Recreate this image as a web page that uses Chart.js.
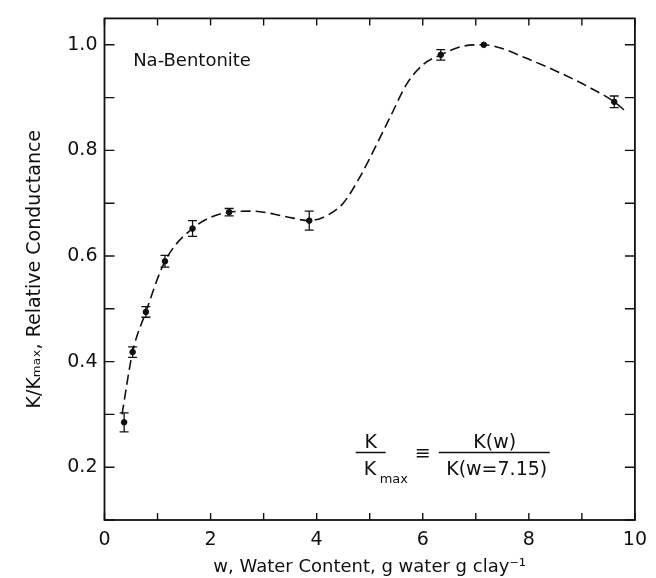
<!DOCTYPE html>
<html>
<head>
<meta charset="utf-8">
<script src="https://cdn.jsdelivr.net/npm/chart.js@4"></script>
<style>
  body { margin: 0; background: #fff; }
  #wrap { width: 656px; height: 578px; }
</style>
</head>
<body>
<div id="wrap"><canvas id="myChart"></canvas></div>
<script>
// measured points, w (g water / g clay) and K/Kmax
var waterContent = [0.37, 0.53, 0.78, 1.14, 1.66, 2.35, 3.86, 6.34, 7.15, 9.61];
var relConductance = [0.285, 0.418, 0.494, 0.590, 0.652, 0.683, 0.667, 0.981, 1.000, 0.892];
var errorBar = [0.018, 0.010, 0.010, 0.011, 0.015, 0.007, 0.018, 0.010, 0, 0.011];

// dashed curve drawn through the data
var curveW = [0.33, 0.53, 0.78, 1.14, 1.66, 2.35, 2.8, 3.4, 3.86, 4.2, 4.5, 4.8, 5.12, 5.4, 5.7, 6.0, 6.34, 6.74, 7.15, 7.5, 7.87, 8.5, 9.13, 9.61, 9.85];
var curveK = [0.30, 0.418, 0.494, 0.590, 0.652, 0.683, 0.685, 0.675, 0.667, 0.677, 0.70, 0.747, 0.809, 0.866, 0.926, 0.962, 0.981, 0.997, 1.0, 0.993, 0.978, 0.951, 0.920, 0.892, 0.872];

var xTicks = [0, 2, 4, 6, 8, 10];
var yTicks = [0.2, 0.4, 0.6, 0.8, 1.0];

var ink = '#111';
var font = 'DejaVu Sans';

var frameTicks = {
	id: 'frameTicks',
	afterDatasetsDraw: function(chart) {
		var ctx = chart.ctx, a = chart.chartArea;
		var x = chart.scales.x, y = chart.scales.y;
		ctx.save();
		ctx.strokeStyle = ink;
		ctx.lineWidth = 1.8;
		ctx.strokeRect(a.left, a.top, a.right - a.left, a.bottom - a.top);
		ctx.lineWidth = 1.4;
		ctx.beginPath();
		x.ticks.forEach(function(t) {
			var px = x.getPixelForValue(t.value);
			ctx.moveTo(px, a.bottom); ctx.lineTo(px, a.bottom - 7);
			ctx.moveTo(px, a.top); ctx.lineTo(px, a.top + 7);
		});
		y.ticks.forEach(function(t) {
			var py = y.getPixelForValue(t.value);
			ctx.moveTo(a.left, py); ctx.lineTo(a.left + 10, py);
			ctx.moveTo(a.right, py); ctx.lineTo(a.right - 10, py);
		});
		ctx.stroke();

		// error bars on the measured points
		ctx.lineWidth = 1.3;
		ctx.beginPath();
		waterContent.forEach(function(w, i) {
			if (!errorBar[i]) return;
			var px = x.getPixelForValue(w);
			var lo = y.getPixelForValue(relConductance[i] - errorBar[i]);
			var hi = y.getPixelForValue(relConductance[i] + errorBar[i]);
			ctx.moveTo(px, lo); ctx.lineTo(px, hi);
			ctx.moveTo(px - 4.5, lo); ctx.lineTo(px + 4.5, lo);
			ctx.moveTo(px - 4.5, hi); ctx.lineTo(px + 4.5, hi);
		});
		ctx.stroke();

		// labels inside the plot
		ctx.fillStyle = ink;
		ctx.textBaseline = 'alphabetic';
		ctx.font = '18px "' + font + '"';
		ctx.textAlign = 'left';
		ctx.fillText('Na-Bentonite', x.getPixelForValue(0.54), y.getPixelForValue(0.959));

		var cx = x.getPixelForValue(5.0), cy = y.getPixelForValue(0.228);
		ctx.font = '19px "' + font + '"';
		ctx.textAlign = 'center';
		ctx.fillText('K', cx + 1, cy - 4);
		ctx.textAlign = 'left';
		ctx.fillText('K', cx - 6, cy + 23);
		ctx.font = '13px "' + font + '"';
		ctx.fillText('max', cx + 10, cy + 31);
		ctx.font = '19px "' + font + '"';
		ctx.textAlign = 'center';
		ctx.fillText('\u2261', cx + 53, cy + 7);
		ctx.fillText('K(w)', cx + 125, cy - 4);
		ctx.fillText('K(w=7.15)', cx + 127, cy + 23);
		ctx.lineWidth = 1.5;
		ctx.beginPath();
		ctx.moveTo(cx - 14, cy); ctx.lineTo(cx + 16, cy);
		ctx.moveTo(cx + 69, cy); ctx.lineTo(cx + 180, cy);
		ctx.stroke();
		ctx.restore();
	}
};

var myChart = document.getElementById('myChart').getContext('2d');

var chart = new Chart(myChart, {
	type: 'scatter',
	data: {
		datasets: [
		{
			type: 'line',
			data: curveW.map(function(w, i) { return {x: w, y: curveK[i]}; }),
			borderColor: ink,
			borderWidth: 1.6,
			borderDash: [10, 5],
			pointRadius: 0,
			cubicInterpolationMode: 'monotone',
			fill: false
		},
		{
			data: waterContent.map(function(w, i) { return {x: w, y: relConductance[i]}; }),
			backgroundColor: ink,
			borderColor: ink,
			pointRadius: 2.8
		}
		]
	},
	options: {
		responsive: true,
		maintainAspectRatio: false,
		animation: false,
		layout: { padding: { top: 11, right: 20, left: 0, bottom: 0 } },
		plugins: {
			legend: { display: false },
			tooltip: { enabled: false }
		},
		scales: {
			x: {
				type: 'linear',
				min: 0,
				max: 10,
				grid: { display: false, drawTicks: false },
				border: { display: false },
				ticks: {
					stepSize: 1,
					padding: 9,
					maxRotation: 0,
					autoSkip: false,
					color: ink,
					font: { family: font, size: 19 },
					callback: function(v) { return xTicks.indexOf(v) >= 0 ? String(v) : ''; }
				},
				title: {
					display: true,
					text: 'w, Water Content, g water g clay\u207B\u00B9',
					color: ink,
					font: { family: font, size: 18 },
					padding: { top: 0, bottom: 0 }
				},
				afterFit: function(s) { s.height = 58; }
			},
			y: {
				type: 'linear',
				min: 0.1,
				max: 1.05,
				grid: { display: false, drawTicks: false },
				border: { display: false },
				ticks: {
					stepSize: 0.1,
					includeBounds: false,
					padding: 7,
					autoSkip: false,
					color: ink,
					font: { family: font, size: 19 },
					callback: function(v) {
						var r = Math.round(v * 10) / 10;
						return yTicks.indexOf(r) >= 0 ? r.toFixed(1) : '';
					}
				},
				title: {
					display: true,
					text: 'K/K\u2098\u2090\u2093, Relative Conductance',
					color: ink,
					font: { family: font, size: 19 },
					padding: { top: 24, bottom: 0 }
				},
				afterFit: function(s) { s.width = 104.5; }
			}
		}
	},
	plugins: [frameTicks]
});
</script>
</body>
</html>
